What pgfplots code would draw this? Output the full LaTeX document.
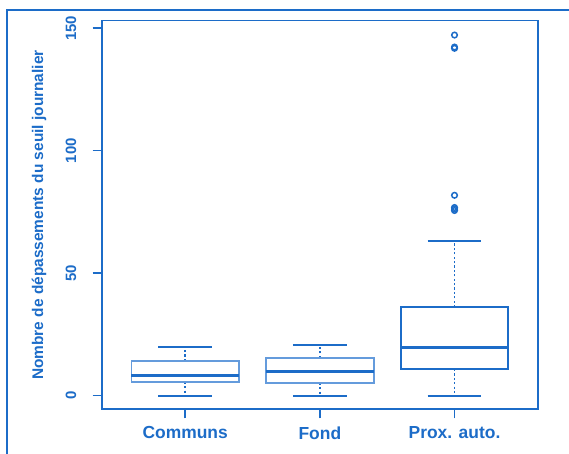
\documentclass[border=0pt]{standalone}
\usepackage{fontspec}
\setmainfont{Liberation Sans}
\usepackage{pgfplots}
\pgfplotsset{compat=1.18}
\usepgfplotslibrary{statistics}
\definecolor{mainblue}{RGB}{28,108,200}
\definecolor{lightblue}{RGB}{100,155,220}
\begin{document}
\begin{tikzpicture}
\useasboundingbox (0,0) rectangle (569bp,454bp);
\fill[white] (0,0) rectangle (569bp,454bp);
\draw[mainblue, line width=1.6bp] (7bp,0) -- (7bp,444bp) -- (569bp,444bp);
\begin{axis}[
  at={(101.7bp,44.7bp)}, anchor=south west,
  scale only axis, width=436.3bp, height=388.6bp,
  xmin=0.38, xmax=3.62, ymin=-5.55, ymax=153.06,
  axis line style={mainblue, line width=1.6bp},
  xtick={1,2,3}, xticklabels={Communs,Fond,Prox. auto.},
  ytick={0,50,100,150},
  tick align=outside, major tick length=9bp,
  tick style={mainblue, line width=1.4bp},
  xtick pos=bottom, ytick pos=left,
  /pgf/number format/assume math mode=true,
  xticklabel style={font=\fontsize{17.5}{20}\selectfont\bfseries, text=mainblue, yshift=-5bp},
  yticklabel style={font=\fontsize{15}{17}\selectfont\bfseries, text=mainblue, rotate=90, anchor=south, yshift=13bp},
  ylabel={Nombre de dépassements du seuil journalier},
  ylabel style={font=\fontsize{15.5}{18}\selectfont\bfseries, text=mainblue, at={(axis description cs:-0.1437,0.5)}, anchor=center},
  boxplot/draw direction=y,
  boxplot/draw/whisker/.code 2 args={
    \draw[/pgfplots/boxplot/every whisker/.try, dash pattern=on 2.2bp off 2.2bp, line width=1.8bp] (boxplot cs:#1) -- (boxplot cs:#2);
    \draw[/pgfplots/boxplot/every whisker/.try, line width=1.8bp] (boxplot whisker cs:#2,0) -- (boxplot whisker cs:#2,1);
  },
  clip=false,
]
\addplot[mainblue, line width=1.6bp,
  boxplot prepared={draw position=1, lower whisker=0, lower quartile=5.7, median=8.2, upper quartile=14.2, upper whisker=19.8, box extend=0.8, whisker extend=0.4},
  boxplot/every box/.style={draw=lightblue, line width=1.6bp},
  boxplot/every median/.style={draw=mainblue, line width=2.6bp},
] coordinates {};
\addplot[mainblue, line width=1.6bp,
  boxplot prepared={draw position=2, lower whisker=0, lower quartile=5.3, median=9.8, upper quartile=15.5, upper whisker=20.8, box extend=0.8, whisker extend=0.4},
  boxplot/every box/.style={draw=lightblue, line width=1.6bp},
  boxplot/every median/.style={draw=mainblue, line width=2.6bp},
] coordinates {};
\addplot[mainblue, line width=1.6bp, mark=o, mark size=2.8bp,
  mark options={line width=1.5bp},
  boxplot prepared={draw position=3, lower whisker=0, lower quartile=10.9, median=19.6, upper quartile=36.1, upper whisker=63.3, box extend=0.8, whisker extend=0.4},
  boxplot/every box/.style={draw=mainblue, line width=1.8bp},
  boxplot/every median/.style={draw=mainblue, line width=2.6bp},
] coordinates {(0,147.2) (0,142.3) (0,141.8) (0,81.8) (0,76.8) (0,76.2) (0,75.6)};
\end{axis}
\end{tikzpicture}
\end{document}
